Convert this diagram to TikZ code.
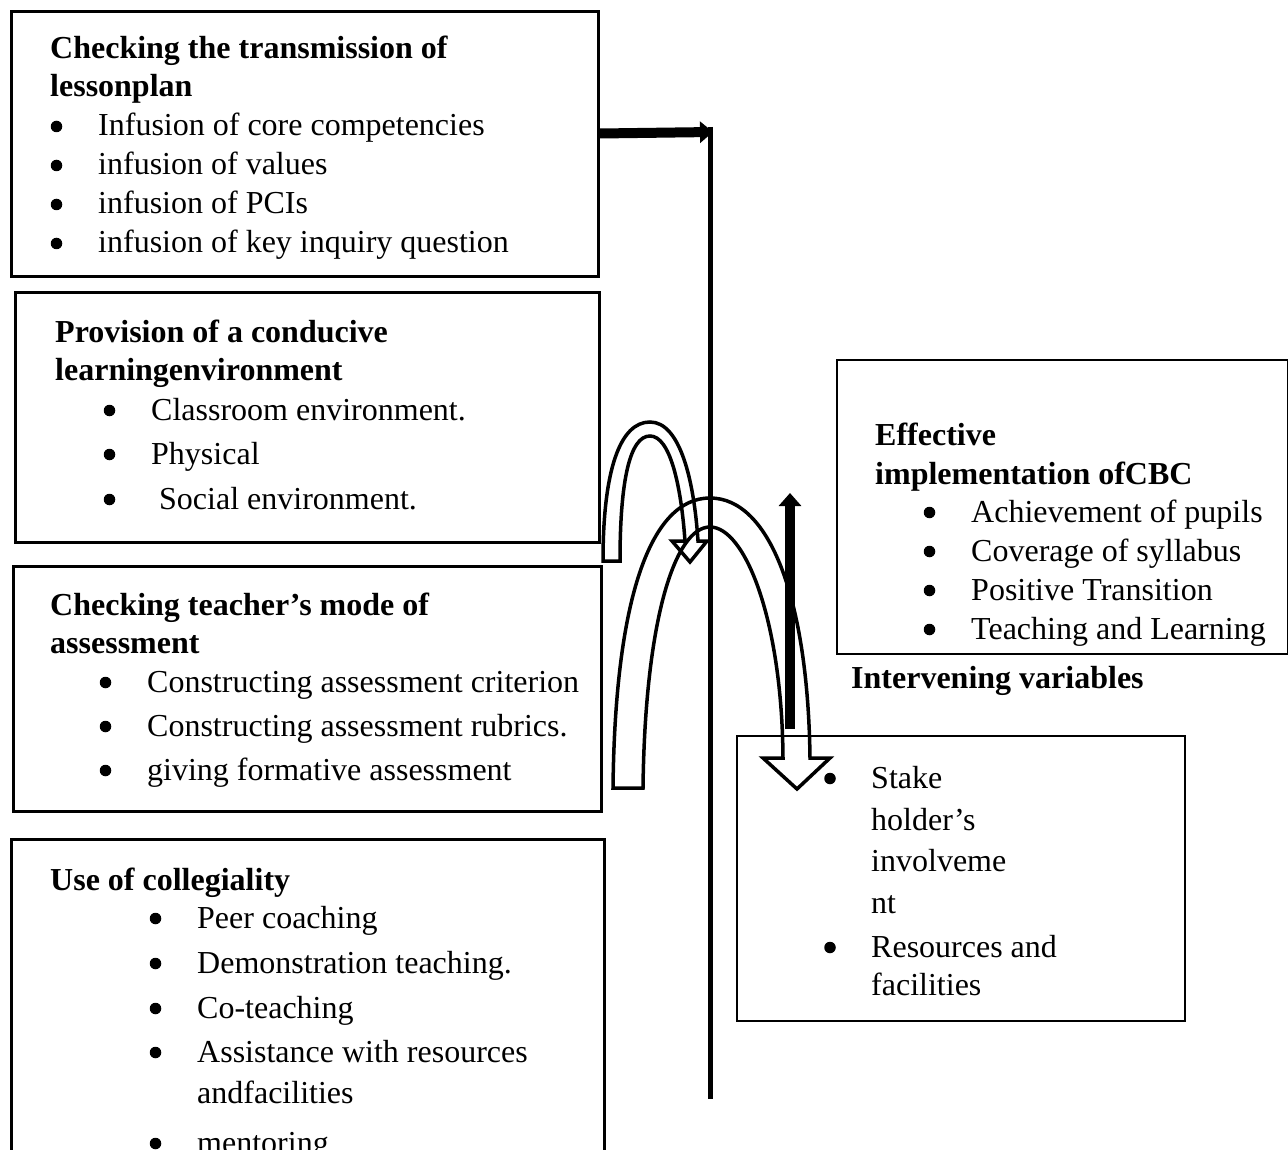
\documentclass[tikz,border=0pt]{standalone}
\usepackage{fontspec}
\setmainfont{Liberation Serif}
\usetikzlibrary{arrows.meta}
\begin{document}
\begin{tikzpicture}[x=1pt,y=-1pt,
  box/.style={draw, line width=3pt, anchor=north west, inner sep=0pt},
  thinbox/.style={draw, line width=1.5pt, anchor=north west, inner sep=0pt},
  txt/.style={anchor=base west, inner sep=0pt, font=\fontsize{32pt}{38pt}\selectfont},
  head/.style={anchor=base west, inner sep=0pt, font=\fontsize{32pt}{38pt}\selectfont\bfseries},
  dot/.style={circle, fill, inner sep=0pt, minimum size=11.5pt},
  hollow/.style={draw, line width=3.5pt, line join=miter},
]
\useasboundingbox (0,0) rectangle (1288,1150);
\clip (0,0) rectangle (1288,1150);
\fill[white] (0,0) rectangle (1288,1150);

% boxes
\node[box, minimum width=587pt, minimum height=265pt] (b1) at (10,10) {};
\node[box, minimum width=584pt, minimum height=250pt] (b2) at (14,291) {};
\node[box, minimum width=588pt, minimum height=245pt] (b3) at (12,565) {};
\node[box, minimum width=593pt, minimum height=340pt] (b4) at (10,838) {};
\node[thinbox, minimum width=451pt, minimum height=294pt] (b5) at (836,359) {};
\node[thinbox, minimum width=448pt, minimum height=285pt] (b6) at (736,735) {};

% box 1
\node[head] (h1a) at (50,59) {Checking the transmission of};
\node[head] (h1b) at (50,97) {lessonplan};
\foreach \y/\t [count=\i] in {136/Infusion of core competencies,175/infusion of values,214/infusion of PCIs,253/infusion of key inquiry question}{
  \node[dot] (b1d\i) at (56.5,\y-9.5) {};
  \node[txt] (b1t\i) at (98,\y) {\t};
}

% box 2
\node[head] (h2a) at (55,343) {Provision of a conducive};
\node[head] (h2b) at (55,381) {learningenvironment};
\foreach \y/\t [count=\i] in {420/Classroom environment.,464/Physical,509/{~Social environment.}}{
  \node[dot] (b2d\i) at (109.5,\y-9.5) {};
  \node[txt] (b2t\i) at (151,\y) {\t};
}

% box 3
\node[head] (h3a) at (50,615) {Checking teacher’s mode of};
\node[head] (h3b) at (50,653) {assessment};
\foreach \y/\t [count=\i] in {692/Constructing assessment criterion,736/Constructing assessment rubrics.,780/giving formative assessment}{
  \node[dot] (b3d\i) at (105.5,\y-9.5) {};
  \node[txt] (b3t\i) at (147,\y) {\t};
}

% box 4
\node[head] (h4a) at (50,890) {Use of collegiality};
\foreach \y/\t [count=\i] in {928/Peer coaching,973/Demonstration teaching.,1018/Co-teaching,1062/Assistance with resources,1153/mentoring}{
  \node[dot] (b4d\i) at (155.5,\y-9.5) {};
  \node[txt] (b4t\i) at (197,\y) {\t};
}
\node[txt] (b4t6) at (197,1103) {andfacilities};

% box 5
\node[head] (h5a) at (875,445) {Effective};
\node[head] (h5b) at (875,484) {implementation ofCBC};
\foreach \y/\t [count=\i] in {522/Achievement of pupils,561/Coverage of syllabus,600/Positive Transition,639/Teaching and Learning}{
  \node[dot] (b5d\i) at (929.5,\y-9.5) {};
  \node[txt] (b5t\i) at (971,\y) {\t};
}
\node[head] (iv) at (851,688) {Intervening variables};

% box 6
\node[dot] (b6d1) at (830,778.5) {};
\node[txt] (b6t1) at (871,788) {Stake};
\node[txt] (b6t2) at (871,830) {holder’s};
\node[txt] (b6t3) at (871,871) {involveme};
\node[txt] (b6t4) at (871,913) {nt};
\node[dot] (b6d2) at (830,947.5) {};
\node[txt] (b6t5) at (871,957) {Resources and};
\node[txt] (b6t6) at (871,995) {facilities};

% vertical line and top arrow
\coordinate (vtop) at (710,127);
\coordinate (vbot) at (710,1099);
\coordinate (vhit) at (713,132);
\draw[line width=5pt] (vtop) -- (vbot);
\draw[line width=10pt, -{Triangle[width=21pt,length=13pt]}] ([yshift=10.5pt]b1.east) -- (vhit);

% up arrow
\coordinate (upbot) at (790,729);
\coordinate (uptop) at (790,493);
\draw[line width=10pt, -{Triangle[width=22pt,length=13pt]}] (upbot) -- (uptop);

% small hollow curved arrow
\draw[hollow] (603,561) .. controls (603,470) and (620,422) .. (650,422)
  .. controls (680,422) and (694,480) .. (698,541)
  -- (707,541) -- (690,562) -- (672,541) -- (685,541)
  .. controls (681,485) and (670,436) .. (650,436)
  .. controls (630,436) and (620,480) .. (620,561) -- cycle;

% large hollow curved arrow
\draw[hollow] (613,788) .. controls (615,600) and (650,498) .. (710,498)
  .. controls (770,498) and (808,600) .. (810,758)
  -- (830,758) -- (797,789) -- (763,758) -- (783,758)
  .. controls (782,620) and (745,527) .. (710,527)
  .. controls (675,527) and (645,620) .. (643,788) -- cycle;
\end{tikzpicture}
\end{document}
